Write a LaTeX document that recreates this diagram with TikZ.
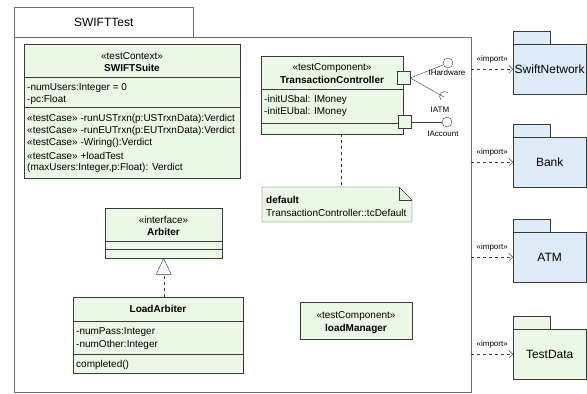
\documentclass[tikz,border=0pt]{standalone}
\usepackage{fontspec}
\setmainfont{Liberation Sans}
\usetikzlibrary{arrows.meta,calc}
\definecolor{clsfill}{HTML}{EAF8E5}
\definecolor{pkgfill}{HTML}{DDEBF8}
\definecolor{edge}{HTML}{3A3A3A}
\definecolor{frame}{HTML}{6E6E6E}
\tikzset{
  cls/.style={draw=edge,fill=clsfill,inner sep=0pt,anchor=north west},
  pkg/.style={draw=edge,fill=pkgfill,inner sep=0pt,anchor=north west},
  port/.style={draw=edge,fill=clsfill,inner sep=0pt,minimum size=13pt},
  ball/.style={draw=edge,fill=white,circle,inner sep=0pt,minimum size=10pt},
  txt/.style={anchor=west,inner sep=0pt,font=\fontsize{10}{12}\selectfont},
  ctr/.style={inner sep=0pt,font=\fontsize{10}{12}\selectfont},
  bld/.style={inner sep=0pt,font=\fontsize{10}{12}\bfseries},
  lbl/.style={inner sep=0pt,font=\fontsize{8}{9}\selectfont},
  dep/.style={draw=edge,dashed,-{Straight Barb[length=4pt,width=8pt]}},
}
\newcommand{\Sep}[2]{\draw[edge] (#1.west |- 0,#2) -- (#1.east |- 0,#2);}

\begin{document}
\begin{tikzpicture}[x=1pt,y=-1pt]
  \useasboundingbox (0,0) rectangle (587,394);
  % test package
  \node[draw=frame,fill=white,inner sep=0pt,anchor=north west,minimum width=179pt,minimum height=30pt] (tab) at (14,7) {};
  \node[font=\fontsize{12}{14}\selectfont] at (tab) {SWIFTTest};
  \node[draw=frame,fill=white,inner sep=0pt,anchor=north west,minimum width=457pt,minimum height=355pt] (test) at (14,37) {};

  % SWIFTSuite
  \node[cls,minimum width=216pt,minimum height=134pt] (suite) at (24,44) {};
  \Sep{suite}{77}
  \Sep{suite}{107}
  \node[ctr] at (132,56) {«testContext»};
  \node[bld] at (132,68) {SWIFTSuite};
  \node[txt] at (27,88) {-numUsers:Integer = 0};
  \node[txt] at (27,100) {-pc:Float};
  \node[txt] at (27,119) {«testCase» -runUSTrxn(p:USTrxnData):Verdict};
  \node[txt] at (27,131) {«testCase» -runEUTrxn(p:EUTrxnData):Verdict};
  \node[txt] at (27,143) {«testCase» -Wiring():Verdict};
  \node[txt] at (27,156) {«testCase» +loadTest};
  \node[txt] at (27,168) {(maxUsers:Integer,p:Float): Verdict};

  % TransactionController
  \node[cls,minimum width=142pt,minimum height=78pt] (tc) at (261,56) {};
  \Sep{tc}{89}
  \Sep{tc}{123}
  \node[ctr] at (332,68) {«testComponent»};
  \node[bld] at (332,80) {TransactionController};
  \node[txt] at (264,100) {-initUSbal: IMoney};
  \node[txt] at (264,112) {-initEUbal: IMoney};
  \node[port] (p1) at (403.5,78) {};
  \node[port] (p2) at (405,122) {};
  \node[ball] (hw) at (448,63) {};
  \coordinate (atm) at (444,97);
  \node[ball] (acc) at (447,122) {};
  \draw[edge] (p1.east) -- (hw);
  \draw[edge] (p1.east) -- (atm);
  \draw[edge] (atm) ++(-3,3) arc[start angle=225,end angle=45,radius=5pt];
  \draw[edge] (p2.east) -- (acc);
  \node[lbl] at (447,73) {IHardware};
  \node[lbl] at (440,110) {IATM};
  \node[lbl] at (443,134) {IAccount};

  % note
  \coordinate (note) at (341,187);
  \fill[clsfill] (262,187) -- (399,187) -- (412,200) -- (412,222) -- (262,222) -- cycle;
  \draw[edge] (262,187) -- (399,187) -- (412,200) -- (412,222) -- (262,222) -- cycle;
  \draw[edge] (399,187) -- (399,200) -- (412,200);
  \draw[edge,dashed] (tc.south -| note) -- (note);
  \node[bld,anchor=west] at (266,200) {default};
  \node[txt] at (266,213) {TransactionController::tcDefault};

  % Arbiter
  \node[cls,minimum width=117pt,minimum height=50pt] (arb) at (105,208) {};
  \Sep{arb}{241}
  \Sep{arb}{249}
  \node[ctr] at (163.5,220) {«interface»};
  \node[bld] at (163.5,232) {Arbiter};

  % LoadArbiter
  \node[cls,minimum width=170pt,minimum height=76pt] (load) at (73,297) {};
  \Sep{load}{321}
  \Sep{load}{354}
  \node[bld] at (158,309) {LoadArbiter};
  \node[txt] at (76,332) {-numPass:Integer};
  \node[txt] at (76,345) {-numOther:Integer};
  \node[txt] at (76,365) {completed()};
  % realization
  \coordinate (tip) at ($(arb.south)+(0,16)$);
  \draw[edge,dashed] (load.north -| arb.south) -- (tip);
  \draw[edge,fill=white] (arb.south) -- ($(tip)+(-7.5,0)$) -- ($(tip)+(7.5,0)$) -- cycle;

  % loadManager
  \node[cls,minimum width=112pt,minimum height=37pt] (mgr) at (300,302) {};
  \node[ctr] at (356,316) {«testComponent»};
  \node[bld] at (356,329) {loadManager};

  % imported packages
  \foreach \name/\y/\col/\txt in {swift/31/pkgfill/SwiftNetwork,bank/124/pkgfill/Bank,atmpkg/219/pkgfill/ATM,data/316/clsfill/TestData}{
    \node[pkg,fill=\col,minimum width=37pt,minimum height=13pt] at (513,\y) {};
    \node[pkg,fill=\col,minimum width=73pt,minimum height=50pt,font=\fontsize{12}{14}\selectfont] (\name) at (513,\y+13) {\txt};
    \draw[dep] (test.east |- \name.west) -- (\name.west);
    \node[lbl,above=6pt] at ($(test.east |- \name.west)!0.5!(\name.west)$) {«import»};
  }
\end{tikzpicture}
\end{document}
